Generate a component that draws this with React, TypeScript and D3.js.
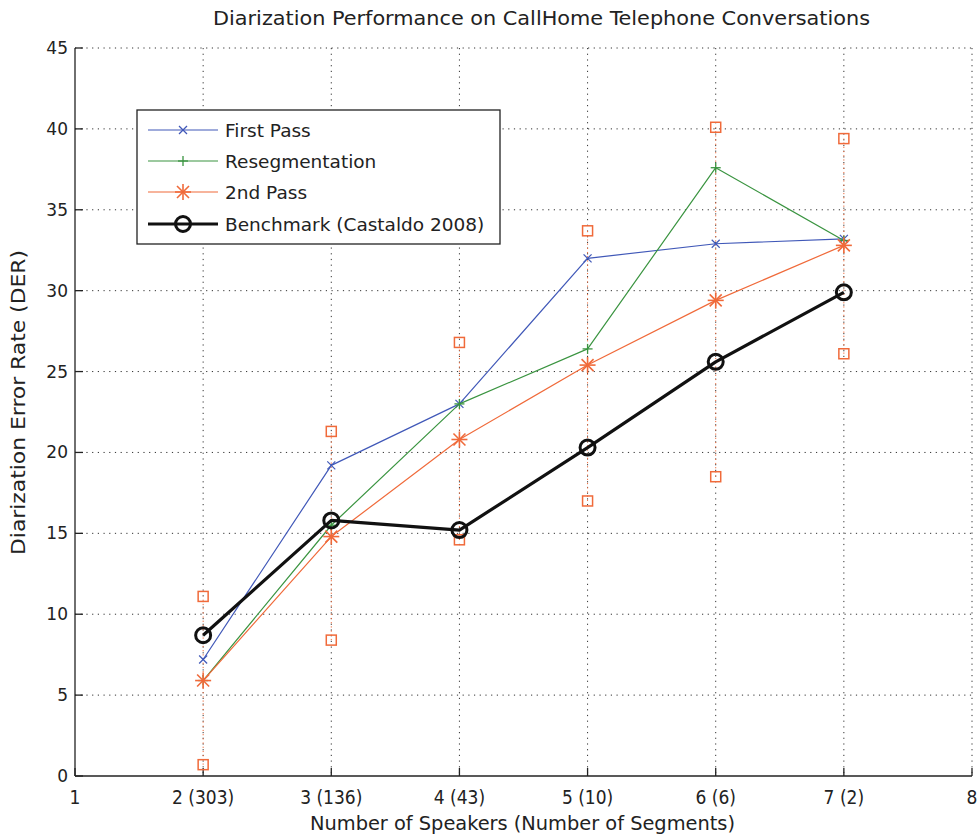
import React from "react";
import * as d3 from "d3";

const xTicks = [1, 2, 3, 4, 5, 6, 7, 8];
const xTickLabels = ["1", "2 (303)", "3 (136)", "4 (43)", "5 (10)", "6 (6)", "7 (2)", "8"];
const yTicks = [0, 5, 10, 15, 20, 25, 30, 35, 40, 45];
const speakers = [2, 3, 4, 5, 6, 7];
const firstPass = [7.2, 19.2, 23.0, 32.0, 32.9, 33.2];
const resegmentation = [5.9, 15.5, 23.0, 26.4, 37.6, 33.1];
const secondPass = [5.9, 14.8, 20.8, 25.4, 29.4, 32.8];
const benchmark = [8.7, 15.8, 15.2, 20.3, 25.6, 29.9];
const errUpper = [11.1, 21.3, 26.8, 33.7, 40.1, 39.4];
const errLower = [0.7, 8.4, 14.6, 17.0, 18.5, 26.1];

const seriesNames = ["First Pass", "Resegmentation", "2nd Pass", "Benchmark (Castaldo 2008)"];

const BLUE = "#4058b8";
const GREEN = "#3a9440";
const ORANGE = "#f06a3a";
const BLACK = "#111";

const left = 75, right = 972, top = 48, bottom = 776;

function Marker({ kind, x, y }: { kind: string; x: number; y: number }) {
  if (kind === "x") {
    const s = 4;
    return (
      <g stroke={BLUE} strokeWidth={1.2}>
        <line x1={x - s} y1={y - s} x2={x + s} y2={y + s} />
        <line x1={x - s} y1={y + s} x2={x + s} y2={y - s} />
      </g>
    );
  }
  if (kind === "+") {
    const s = 5;
    return (
      <g stroke={GREEN} strokeWidth={1.3}>
        <line x1={x - s} y1={y} x2={x + s} y2={y} />
        <line x1={x} y1={y - s} x2={x} y2={y + s} />
      </g>
    );
  }
  if (kind === "*") {
    const s = 8;
    const d = s * 0.75;
    return (
      <g stroke={ORANGE} strokeWidth={1.6}>
        <line x1={x - s} y1={y} x2={x + s} y2={y} />
        <line x1={x} y1={y - s} x2={x} y2={y + s} />
        <line x1={x - d} y1={y - d} x2={x + d} y2={y + d} />
        <line x1={x - d} y1={y + d} x2={x + d} y2={y - d} />
      </g>
    );
  }
  if (kind === "o") {
    return <circle cx={x} cy={y} r={7.5} fill="none" stroke={BLACK} strokeWidth={3} />;
  }
  return null;
}

export default function App() {
  const x = d3.scaleLinear().domain([1, 8]).range([left, right]);
  const y = d3.scaleLinear().domain([0, 45]).range([bottom, top]);
  const line = d3
    .line<number>()
    .x((_, i) => x(speakers[i]))
    .y((d) => y(d));

  const series = [
    { data: firstPass, color: BLUE, width: 1.2, marker: "x" },
    { data: resegmentation, color: GREEN, width: 1.2, marker: "+" },
    { data: secondPass, color: ORANGE, width: 1.2, marker: "*" },
    { data: benchmark, color: BLACK, width: 3.2, marker: "o" },
  ];

  const condensed = "'DejaVu Sans Condensed', 'Liberation Sans', Arial, sans-serif";
  const wide = "'DejaVu Sans', 'Liberation Sans', Arial, sans-serif";

  const legX = 137, legY = 110, legW = 363, legH = 134;
  const rowY = [130, 161, 192, 224];

  return (
    <svg width={978} height={836} style={{ position: "absolute", left: 0, top: 0, background: "#fff" }}>
      <rect x={0} y={0} width={978} height={836} fill="#fff" />
      {/* grid */}
      <g stroke="#333" strokeWidth={1} strokeDasharray="1.2,4.5">
        {yTicks.filter((t) => t > 0).map((t) => (
          <line key={"gy" + t} x1={left} x2={right} y1={y(t)} y2={y(t)} />
        ))}
        {xTicks.filter((t) => t > 1).map((t) => (
          <line key={"gx" + t} x1={x(t)} x2={x(t)} y1={top} y2={bottom} />
        ))}
      </g>
      {/* axes */}
      <g stroke="#222" strokeWidth={1.3} fill="none">
        <line x1={left} x2={left} y1={top} y2={bottom} />
        <line x1={left} x2={right} y1={bottom} y2={bottom} />
        {yTicks.map((t) => (
          <line key={"ty" + t} x1={left} x2={left + 8} y1={y(t)} y2={y(t)} />
        ))}
        {xTicks.map((t) => (
          <line key={"tx" + t} x1={x(t)} x2={x(t)} y1={bottom} y2={bottom - 8} />
        ))}
      </g>
      {/* tick labels */}
      <g fontFamily={wide} fontSize={17} fill="#222" textAnchor="end">
        {yTicks.map((t) => (
          <text key={"yl" + t} x={left - 7} y={y(t) + 6}>
            {t}
          </text>
        ))}
      </g>
      <g fontFamily={condensed} fontSize={19} fill="#222" textAnchor="middle">
        {xTicks.map((t, i) => (
          <text key={"xl" + t} x={x(t)} y={bottom + 28}>
            {xTickLabels[i]}
          </text>
        ))}
      </g>
      {/* titles */}
      <text
        x={213}
        y={25}
        fontFamily={condensed}
        fontSize={19}
        fill="#222"
        textLength={657}
        lengthAdjust="spacingAndGlyphs"
      >
        Diarization Performance on CallHome Telephone Conversations
      </text>
      <text
        x={310}
        y={830}
        fontFamily={condensed}
        fontSize={19}
        fill="#222"
        textLength={425}
        lengthAdjust="spacingAndGlyphs"
      >
        Number of Speakers (Number of Segments)
      </text>
      <text
        transform="translate(25, 555) rotate(-90)"
        fontFamily={condensed}
        fontSize={19}
        fill="#222"
        textLength={305}
        lengthAdjust="spacingAndGlyphs"
      >
        Diarization Error Rate (DER)
      </text>
      {/* error bars */}
      <g>
        {speakers.map((s, i) => (
          <g key={"eb" + s}>
            <line
              x1={x(s)}
              x2={x(s)}
              y1={y(errLower[i])}
              y2={y(errUpper[i])}
              stroke={ORANGE}
              strokeWidth={1}
              strokeDasharray="1.2,3"
            />
            <rect x={x(s) - 5} y={y(errUpper[i]) - 5} width={10} height={10} fill="none" stroke={ORANGE} strokeWidth={1.5} />
            <rect x={x(s) - 5} y={y(errLower[i]) - 5} width={10} height={10} fill="none" stroke={ORANGE} strokeWidth={1.5} />
          </g>
        ))}
      </g>
      {/* series */}
      {series.map((sr, k) => (
        <g key={"s" + k}>
          <path d={line(sr.data) || ""} fill="none" stroke={sr.color} strokeWidth={sr.width} strokeLinejoin="round" />
          {sr.data.map((v, i) => (
            <Marker key={i} kind={sr.marker} x={x(speakers[i])} y={y(v)} />
          ))}
        </g>
      ))}
      {/* legend */}
      <rect x={legX} y={legY} width={legW} height={legH} fill="#fff" stroke="#222" strokeWidth={1.3} />
      {series.map((sr, k) => (
        <g key={"lg" + k}>
          <line x1={148} x2={218} y1={rowY[k]} y2={rowY[k]} stroke={sr.color} strokeWidth={sr.width} />
          <Marker kind={sr.marker} x={183} y={rowY[k]} />
          <text x={225} y={rowY[k] + 7} fontFamily={wide} fontSize={18.5} fill="#222">
            {seriesNames[k]}
          </text>
        </g>
      ))}
    </svg>
  );
}
